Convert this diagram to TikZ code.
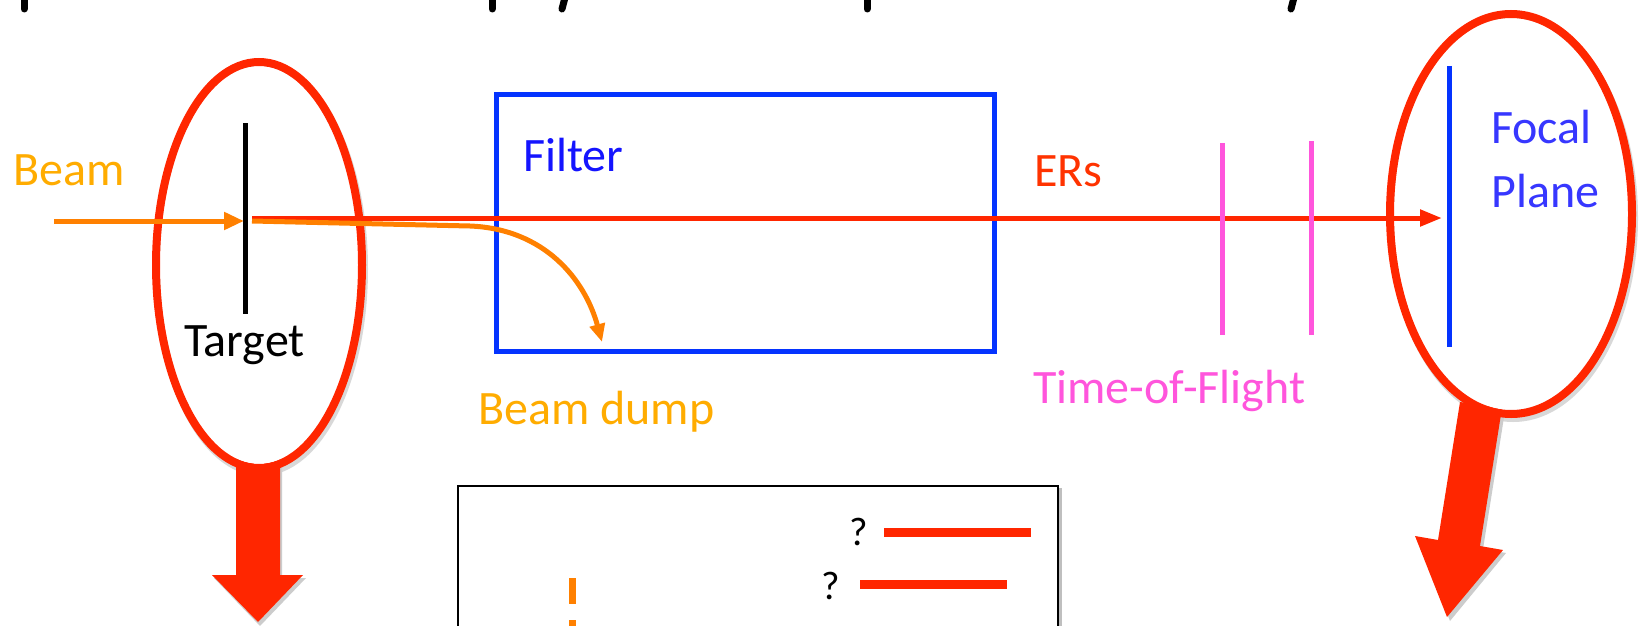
\documentclass[tikz,border=0pt]{standalone}
\usepackage{fontspec}
\setmainfont{Carlito}
\usetikzlibrary{arrows.meta}
\definecolor{rred}{RGB}{255,38,0}
\definecolor{borange}{RGB}{255,128,0}
\definecolor{torange}{RGB}{255,172,0}
\definecolor{bblue}{RGB}{4,51,255}
\definecolor{tblue}{RGB}{20,20,255}
\definecolor{fblue}{RGB}{55,55,255}
\definecolor{ppink}{RGB}{255,85,220}
\definecolor{ered}{RGB}{255,51,0}
\tikzset{
  lbl/.style={anchor=base west, inner sep=0pt, font=\fontsize{48}{57}\selectfont},
  qlbl/.style={anchor=base west, inner sep=0pt, font=\fontsize{40}{46}\selectfont},
  ring/.style={draw=rred, line width=8pt},
  ringshadow/.style={draw=black!25, line width=8pt, opacity=0.6},
  bigarrow/.style={fill=rred, draw=none},
  frag/.style={black, line width=7pt, line cap=round},
}
\begin{document}
\begin{tikzpicture}[x=1pt,y=-1pt]
\useasboundingbox (0,0) rectangle (1641,626);
\clip (0,0) rectangle (1641,626);
\fill[white] (0,0) rectangle (1641,626);

% fragments of a cut-off title at the top
\draw[frag] (24,-10) -- (24,9);
\draw[frag] (492,-10) -- (492,9);
\draw[frag] (567,-10) -- (562,9);
\draw[frag] (867,-10) -- (867,9);
\draw[frag] (1296,-10) -- (1291,9);

% ---------- left ellipse (target) ----------
\coordinate (lc) at (259,265);
\draw[ringshadow] (261,269) ellipse [x radius=103, y radius=203];
\fill[black!20] (238,455) -- (282,455) -- (282,578) -- (306,578) -- (260,626) -- (214,578) -- (238,578) -- cycle;
\fill[bigarrow] (236,452) -- (280,452) -- (280,575) -- (303,575) -- (258,622) -- (212,575) -- (236,575) -- cycle;
\fill[white] (259,265) ellipse [x radius=99, y radius=199];
\draw[ring] (lc) ellipse [x radius=103, y radius=203];

% ---------- right ellipse (focal plane) ----------
\coordinate (rc) at (1511,214);
\draw[ringshadow] (1513,218) ellipse [x radius=121, y radius=200];
\fill[black!20] (1505,411) -- (1463,405) -- (1441,543) -- (1418,539) -- (1450,621) -- (1506,553) -- (1483,549) -- cycle;
\fill[bigarrow] (1502,408) -- (1460,402) -- (1438,540) -- (1415,536) -- (1447,617) -- (1503,550) -- (1480,546) -- cycle;
\fill[white] (rc) ellipse [x radius=117, y radius=196];
\draw[ring] (rc) ellipse [x radius=121, y radius=200];

% ---------- filter box ----------
\node[draw=bblue, line width=5pt, minimum width=498pt, minimum height=257pt, inner sep=0pt, anchor=north west] (filter) at (494,92) {};
\node[lbl, text=tblue] (filtertxt) at (523,171) {Filter};

% ---------- target ----------
\coordinate (tgtTop) at (245,123);
\coordinate (tgtBot) at (245,314);
\draw[black, line width=5pt] (tgtTop) -- (tgtBot);
\node[lbl] (targettxt) at (184,356) {Target};

% ---------- beam ----------
\node[lbl, text=torange] (beamtxt) at (13,185) {Beam};
\coordinate (beamIn) at (54,221);
\coordinate (tgtHit) at (244,221);
\draw[borange, line width=5pt, -{Triangle[length=20pt,width=17pt]}] (beamIn) -- (tgtHit);

% ---------- ERs beam line ----------
\coordinate (erStart) at (252,218);
\coordinate (focalHit) at (1442,218);
\draw[rred, line width=5pt, -{Triangle[length=22pt,width=16pt]}] (erStart) -- (focalHit);
\node[lbl, text=ered] (erstxt) at (1034,186) {ERs};

% ---------- beam dump curve ----------
\coordinate (dumpStart) at (252,221);
\coordinate (dumpEnd) at (602,342);
\draw[borange, line width=5pt, -{Triangle[length=18pt,width=15pt]}]
  (dumpStart) -- (470,226) .. controls (545,229) and (585,280) .. (dumpEnd);
\node[lbl, text=torange] (dumptxt) at (478,424) {Beam dump};

% ---------- time of flight ----------
\coordinate (tof1t) at (1222,143);
\coordinate (tof1b) at (1222,335);
\coordinate (tof2t) at (1311,141);
\coordinate (tof2b) at (1311,335);
\draw[ppink, line width=5pt] (tof1t) -- (tof1b);
\draw[ppink, line width=5pt] (tof2t) -- (tof2b);
\node[lbl, text=ppink] (toftxt) at (1033,403) {Time-of-Flight};

% ---------- focal plane ----------
\coordinate (fpTop) at (1449,66);
\coordinate (fpBot) at (1449,347);
\draw[bblue, line width=5pt] (fpTop) -- (fpBot);
\node[lbl, text=fblue] (focaltxt) at (1491,143) {Focal};
\node[lbl, text=fblue] (planetxt) at (1491,207) {Plane};

% ---------- legend box ----------
\draw[black!25, line width=3pt] (460,489) rectangle (1060,680);
\node[draw=black, line width=2pt, fill=white, minimum width=600pt, minimum height=200pt, inner sep=0pt, anchor=north west] (legend) at (457,485) {};
\node[qlbl] (q1) at (849,545) {?};
\coordinate (l1a) at (884,532);
\coordinate (l1b) at (1031,532);
\draw[rred, line width=9pt] (l1a) -- (l1b);
\node[qlbl] (q2) at (821,599) {?};
\coordinate (l2a) at (860,584);
\coordinate (l2b) at (1007,584);
\draw[rred, line width=9pt] (l2a) -- (l2b);
\coordinate (da) at (572,578);
\coordinate (db) at (572,660);
\draw[borange, line width=7pt, dash pattern=on 26pt off 16pt] (da) -- (db);
\end{tikzpicture}
\end{document}
